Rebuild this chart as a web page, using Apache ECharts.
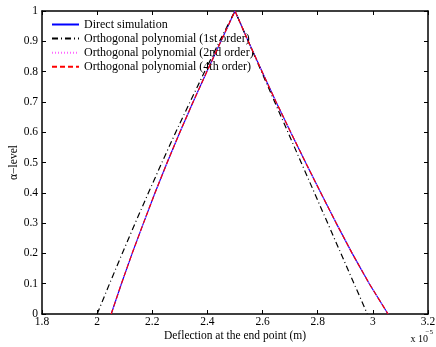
<!DOCTYPE html>
<html><head><meta charset="utf-8">
<script src="https://cdn.jsdelivr.net/npm/echarts@6/dist/echarts.min.js"></script>
<style>html,body{margin:0;padding:0;background:#fff}#c{width:436px;height:347px}</style>
</head><body><div id="c"></div>
<script>
// alpha levels (ascending on left branch, then descending on right branch)
var alphaLeft = [0, 0.1, 0.2, 0.3, 0.4, 0.5, 0.6, 0.7, 0.8, 0.9, 1];
var alphaRight = [1, 0.9, 0.8, 0.7, 0.6, 0.5, 0.4, 0.3, 0.2, 0.1, 0];
// deflection values (x 1e-5 m)
var directLeft  = [2.051, 2.088, 2.127, 2.168, 2.210, 2.254, 2.300, 2.348, 2.398, 2.449, 2.5];
var directRight = [2.5, 2.548, 2.598, 2.649, 2.702, 2.756, 2.811, 2.867, 2.925, 2.987, 3.055];
var first1Left  = [2.0, 2.045, 2.091, 2.138, 2.186, 2.235, 2.285, 2.337, 2.390, 2.444, 2.5];
var first1Right = [2.5, 2.548, 2.596, 2.644, 2.692, 2.740, 2.788, 2.836, 2.884, 2.932, 2.980];
var second2Left  = [2.051, 2.088, 2.127, 2.168, 2.210, 2.254, 2.300, 2.348, 2.398, 2.449, 2.5];
var second2Right = [2.5, 2.548, 2.598, 2.649, 2.702, 2.756, 2.811, 2.867, 2.925, 2.987, 3.055];
var fourth4Left  = [2.051, 2.088, 2.127, 2.168, 2.210, 2.254, 2.300, 2.348, 2.398, 2.449, 2.5];
var fourth4Right = [2.5, 2.548, 2.598, 2.649, 2.702, 2.756, 2.811, 2.867, 2.925, 2.987, 3.055];
var seriesNames = ['Direct simulation', 'Orthogonal polynomial (1st order)', 'Orthogonal polynomial (2nd order)', 'Orthogonal polynomial (4th order)'];

function build(left, right) {
  var pts = [];
  for (var i = 0; i < left.length; i++) pts.push([left[i], alphaLeft[i]]);
  for (var j = 1; j < right.length; j++) pts.push([right[j], alphaRight[j]]);
  return pts;
}
var FONT = '"Liberation Serif","Times New Roman",serif';
var chart = echarts.init(document.getElementById('c'), null, {renderer: 'canvas'});
function fmt(v) { return String(parseFloat(v.toFixed(1))); }
var axisCommon = {
  axisLine: {show: true, onZero: false, lineStyle: {color: '#000', width: 1.5}},
  axisTick: {show: true, inside: true, length: 4, lineStyle: {color: '#000', width: 1}},
  splitLine: {show: false}
};
chart.setOption({
  animation: false,
  backgroundColor: '#fff',
  grid: {left: 42, right: 8, top: 11, bottom: 33, containLabel: false, outerBoundsMode: 'none'},
  xAxis: [
    Object.assign({type: 'value', min: 1.8, max: 3.2, interval: 0.2, position: 'bottom',
      name: 'Deflection at the end point (m)', nameLocation: 'middle', nameGap: 16, nameMoveOverlap: false,
      nameTextStyle: {fontFamily: FONT, fontSize: 11.5, color: '#000'},
      axisLabel: {fontFamily: FONT, fontSize: 11.5, color: '#000', margin: 2, formatter: fmt}}, axisCommon),
    Object.assign({type: 'value', min: 1.8, max: 3.2, interval: 0.2, position: 'top',
      axisLabel: {show: false}}, axisCommon)
  ],
  yAxis: [
    Object.assign({type: 'value', min: 0, max: 1, interval: 0.1, position: 'left',
      name: 'α−level', nameLocation: 'middle', nameGap: 22, nameMoveOverlap: false,
      nameTextStyle: {fontFamily: FONT, fontSize: 11.5, color: '#000'},
      axisLabel: {fontFamily: FONT, fontSize: 11.5, color: '#000', margin: 4, formatter: fmt}}, axisCommon),
    Object.assign({type: 'value', min: 0, max: 1, interval: 0.1, position: 'right',
      axisLabel: {show: false}}, axisCommon)
  ],
  legend: {
    orient: 'vertical', left: 51, top: 18.5, padding: 0, itemGap: 2.1, itemWidth: 27, itemHeight: 11.5,
    itemStyle: {opacity: 0},
    textStyle: {fontFamily: FONT, fontSize: 12, color: '#000'},
    data: seriesNames
  },
  graphic: [
    {type: 'text', right: 8, bottom: 3, style: {text: 'x 10', font: '10px ' + FONT, fill: '#000'}},
    {type: 'text', right: 3, bottom: 11, style: {text: '−5', font: '7px ' + FONT, fill: '#000'}}
  ],
  series: [
    {name: seriesNames[0], type: 'line', data: build(directLeft, directRight), symbol: 'none', z: 2,
      lineStyle: {color: '#0000ff', width: 1.2, type: 'solid'}, itemStyle: {color: '#0000ff'}},
    {name: seriesNames[1], type: 'line', data: build(first1Left, first1Right), symbol: 'none', z: 3,
      lineStyle: {color: '#000', width: 1.2, type: [6, 3, 1, 3]}, itemStyle: {color: '#000'}},
    {name: seriesNames[2], type: 'line', data: build(second2Left, second2Right), symbol: 'none', z: 4,
      lineStyle: {color: '#ff66ff', width: 1, type: [1, 2]}, itemStyle: {color: '#ff66ff'}},
    {name: seriesNames[3], type: 'line', data: build(fourth4Left, fourth4Right), symbol: 'none', z: 5,
      lineStyle: {color: '#ff0000', width: 1.2, type: [5, 3]}, itemStyle: {color: '#ff0000'}}
  ]
});
</script></body></html>
